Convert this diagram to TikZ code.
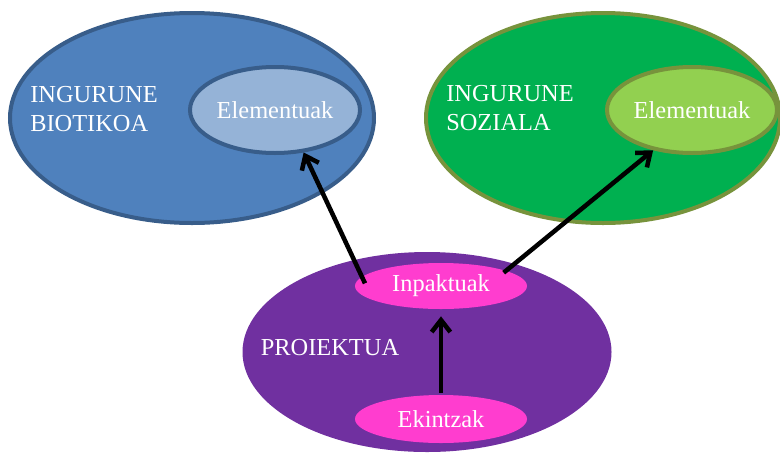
\documentclass[tikz,border=0pt]{standalone}
\usepackage{fontspec}
\setmainfont{Liberation Serif}
\usetikzlibrary{shapes.geometric,arrows.meta}

\definecolor{bioblue}{HTML}{4F81BD}
\definecolor{bioedge}{HTML}{385D8A}
\definecolor{biolight}{HTML}{95B3D7}
\definecolor{sozgreen}{HTML}{00B050}
\definecolor{sozedge}{HTML}{77933C}
\definecolor{sozlight}{HTML}{92D050}
\definecolor{propurple}{HTML}{7030A0}
\definecolor{propink}{HTML}{FF3DCF}

\begin{document}
\begin{tikzpicture}[x=0.75pt,y=-0.75pt,
    oval/.style={ellipse,inner sep=0pt,line width=3pt},
    lbl/.style={text=white,font=\fontsize{18.3}{21.5}\selectfont},
    link/.style={line width=3.4pt,-{Straight Barb[length=9pt,width=14pt]}}]

            \useasboundingbox (0,0) rectangle (780,454);

            \node[oval,draw=bioedge,fill=bioblue,minimum width=364*0.75pt,minimum height=210*0.75pt] (bio) at (192,118) {};
            \node[oval,draw=bioedge,fill=biolight,minimum width=170*0.75pt,minimum height=86*0.75pt,lbl] (bioel) at (275,110) {Elementuak};
            \node[lbl,align=left] (biotxt) at (94,109) {INGURUNE\\BIOTIKOA};

            \node[oval,draw=sozedge,fill=sozgreen,minimum width=354*0.75pt,minimum height=210*0.75pt] (soz) at (603,118) {};
            \node[oval,draw=sozedge,fill=sozlight,minimum width=170*0.75pt,minimum height=86*0.75pt,lbl] (sozel) at (692,110) {Elementuak};
            \node[lbl,align=left] (soztxt) at (510,108) {INGURUNE\\SOZIALA};

            \node[oval,fill=propurple,minimum width=369*0.75pt,minimum height=200*0.75pt] (proj) at (427,352) {};
            \node[oval,fill=propink,minimum width=172*0.75pt,minimum height=46*0.75pt,lbl] (inp) at (441,286) {Inpaktuak};
            \node[oval,fill=propink,minimum width=172*0.75pt,minimum height=48*0.75pt,lbl] (eki) at (441,419) {Ekintzak};
            \node[lbl] (projtxt) at (330,348) {PROIEKTUA};

            \draw[link] ([xshift=9pt,yshift=2pt]inp.west) -- (bioel.-56);
            \draw[link] ([xshift=-19pt,yshift=10pt]inp.east) -- (sozel.226);
            \draw[link,shorten >=4pt] (eki.north) -- (inp.south);

\end{tikzpicture}
\end{document}
